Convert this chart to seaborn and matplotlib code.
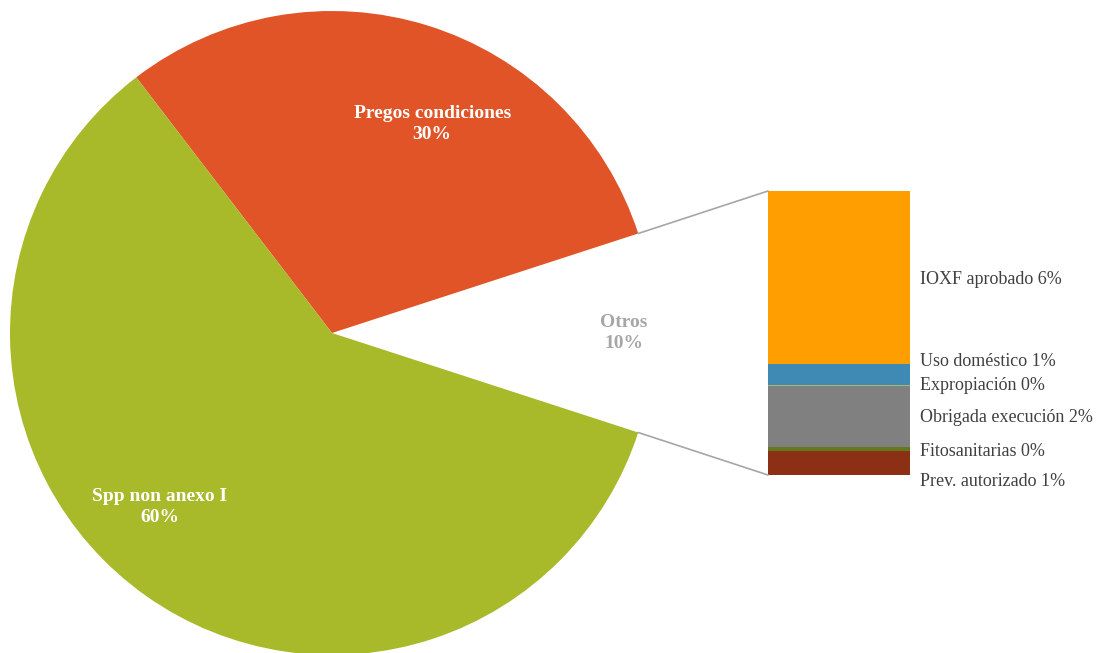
import numpy as np
import matplotlib.pyplot as plt
from matplotlib.patches import ConnectionPatch
import seaborn as sns

sns.set_style('white')
plt.rcParams['font.family'] = ['Liberation Serif', 'DejaVu Serif']

# main pie
pie_labels = ['Otros', 'Pregos condiciones', 'Spp non anexo I']
pie_values = [10.0, 30.4, 59.6]
pie_pct = ['10%', '30%', '60%']
pie_colors = ['#FFFFFF', '#E05427', '#A8B92A']

# breakdown of "Otros", bottom to top
bar_labels = ['Prev. autorizado', 'Fitosanitarias', 'Obrigada execución',
              'Expropiación', 'Uso doméstico', 'IOXF aprobado']
bar_values = [0.85, 0.14, 2.15, 0.04, 0.74, 6.08]
bar_pct = ['1%', '0%', '2%', '0%', '1%', '6%']
bar_colors = ['#8B2F15', '#637A1C', '#808080', '#A9B86A', '#3E8AB5', '#FF9E00']

W, H = 1104, 653
fig = plt.figure(figsize=(W / 100, H / 100), dpi=100)

# pie axes: centre (332,333), radius 322 px
cx, cy, r = 332, 333, 322
ax = fig.add_axes([(cx - r) / W, (H - cy - r) / H, 2 * r / W, 2 * r / H])
half = pie_values[0] / sum(pie_values) * 360 / 2
wedges, _ = ax.pie(pie_values, colors=pie_colors, startangle=-half,
                   counterclock=True, radius=1,
                   wedgeprops=dict(edgecolor='none', linewidth=0))
ax.set_xlim(-1, 1)
ax.set_ylim(-1, 1)
ax.set_aspect('equal')

# label positions (radius, angle)
lab_pos = [(0.907, 0.0), (0.72, 64.4), (0.76, 225.3)]
lab_col = ['#A6A6A6', 'white', 'white']
for name, pct, (rr, ang), col in zip(pie_labels, pie_pct, lab_pos, lab_col):
    a = np.deg2rad(ang)
    ax.text(rr * np.cos(a), rr * np.sin(a), name + '\n' + pct, ha='center', va='center',
            color=col, fontsize=14, fontweight='bold', linespacing=1.25)

# stacked bar
bx0, bx1, by0, by1 = 768, 910, 191, 475
ax2 = fig.add_axes([bx0 / W, (H - by1) / H, (bx1 - bx0) / W, (by1 - by0) / H])
cum = np.cumsum(bar_values)
for i in range(len(bar_values) - 1, -1, -1):
    sns.barplot(x=[0], y=[cum[i]], color=bar_colors[i], width=1.0, ax=ax2,
                saturation=1, edgecolor='none')
ax2.set_xlim(-0.5, 0.5)
ax2.set_ylim(0, cum[-1])
ax2.axis('off')

# labels to the right of the bar
lab_y = [482, 451, 417, 386, 361, 280]
for name, pct, y in zip(bar_labels, bar_pct, lab_y):
    fig.text(920 / W, 1 - y / H, name + ' ' + pct, ha='left', va='center',
             fontsize=13, color='#404040')

# connector lines
a = np.deg2rad(half)
for sgn, yb in [(1, cum[-1]), (-1, 0)]:
    con = ConnectionPatch(xyA=(np.cos(a), sgn * np.sin(a)), coordsA=ax.transData,
                          xyB=(-0.5, yb), coordsB=ax2.transData,
                          color='#A6A6A6', lw=1.2)
    fig.add_artist(con)

fig.savefig('out.png', dpi=100, facecolor='white')
